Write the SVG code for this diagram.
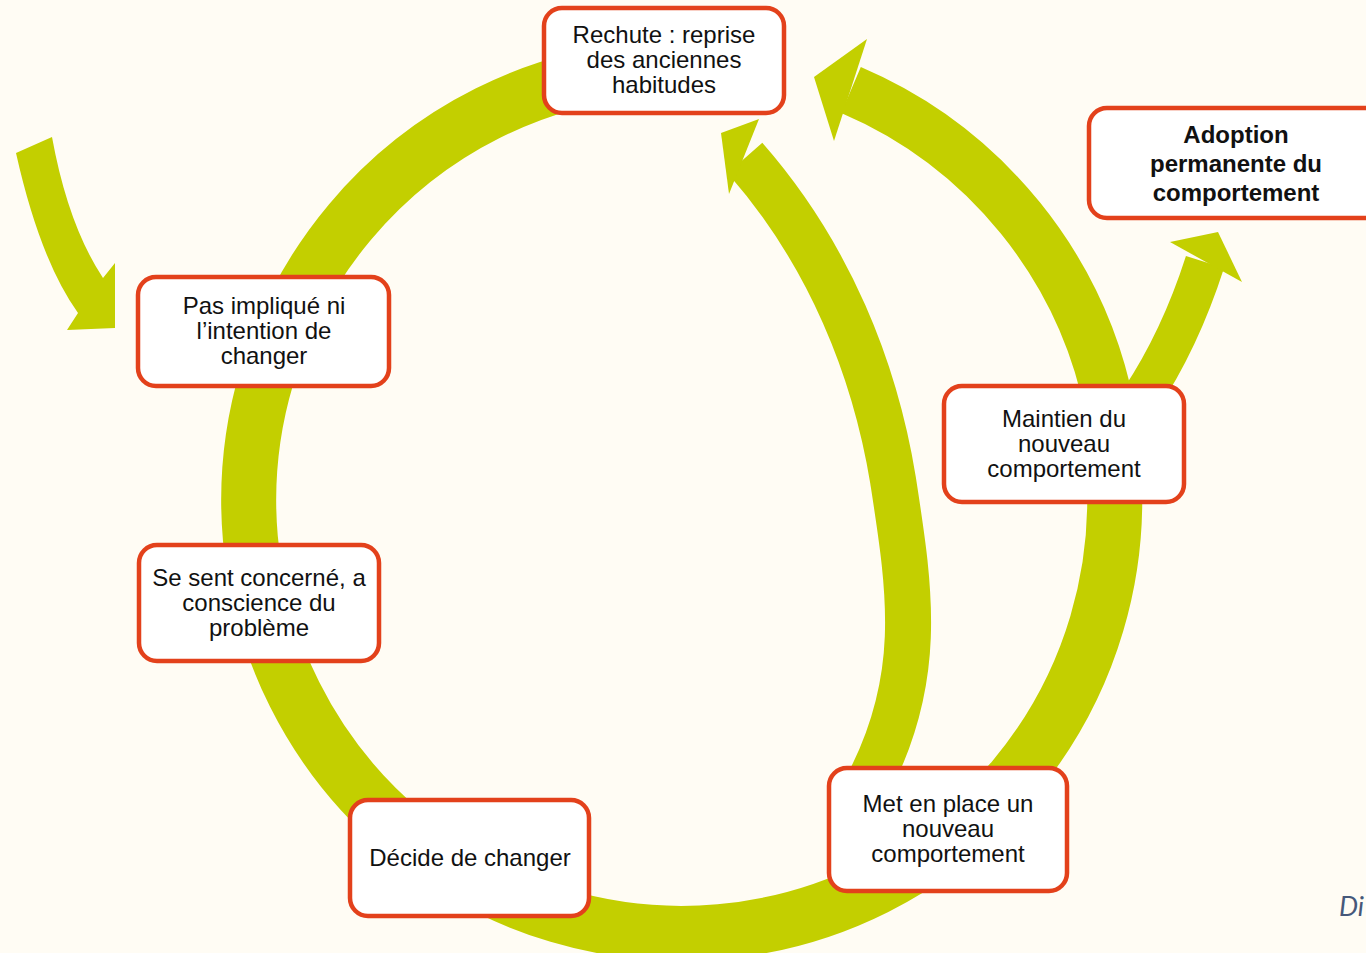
<svg xmlns="http://www.w3.org/2000/svg" width="1366" height="953" viewBox="0 0 1366 953">
<style>
.bg{fill:#fffcf4}
.ring{fill:none;stroke:#c3cf00}
.head{fill:#c3cf00}
.box{fill:#ffffff;stroke:#e3411b;stroke-width:4.5}
.t{font-family:"Liberation Sans",Arial,sans-serif;font-size:24px;fill:#111;text-anchor:middle}
.b{font-weight:bold;font-size:24px}
.sig{font-family:Lato,"Open Sans",sans-serif;font-style:italic;font-size:27px;fill:#46587a}
</style>
<rect class="bg" x="0" y="0" width="1366" height="953"/>
<g id="connectors">
  <path class="ring" stroke-width="55" d="M1113,462 A433,433 0 1 1 644,69"/>
  <path class="ring" stroke-width="50" d="M1110,410 A440,440 0 0 0 851,90"/>
  <polygon class="head" points="814,77 867,39 834,141"/>
  <path class="ring" stroke-width="46" d="M865,790 C925,680 910,590 893,480 C875,370 830,255 745,158"/>
  <polygon class="head" points="721,133 759,119 729,194"/>
  <path class="ring" stroke-width="40" d="M1140,400 Q1180,340 1205,262"/>
  <polygon class="head" points="1218,232 1170,242 1242,282"/>
  <path class="head" d="M16,153 Q40,260 78,313 L67,330 L115,328 L115,263 L103,278 Q68,225 52,137 Z"/>
</g>
<g id="rechute">
  <rect class="box" x="544" y="8" width="240" height="105" rx="18"/>
  <text class="t" x="664" y="43">Rechute : reprise</text>
  <text class="t" x="664" y="68">des anciennes</text>
  <text class="t" x="664" y="93">habitudes</text>
</g>
<g id="pas-implique">
  <rect class="box" x="138" y="277" width="251" height="109" rx="18"/>
  <text class="t" x="264" y="314">Pas impliqué ni</text>
  <text class="t" x="264" y="339">l’intention de</text>
  <text class="t" x="264" y="364">changer</text>
</g>
<g id="se-sent-concerne">
  <rect class="box" x="139" y="545" width="240" height="116" rx="18"/>
  <text class="t" x="259" y="586">Se sent concerné, a</text>
  <text class="t" x="259" y="611">conscience du</text>
  <text class="t" x="259" y="636">problème</text>
</g>
<g id="decide">
  <rect class="box" x="350" y="800" width="239" height="116" rx="18"/>
  <text class="t" x="470" y="866">Décide de changer</text>
</g>
<g id="met-en-place">
  <rect class="box" x="829" y="768" width="238" height="123" rx="18"/>
  <text class="t" x="948" y="812">Met en place un</text>
  <text class="t" x="948" y="837">nouveau</text>
  <text class="t" x="948" y="862">comportement</text>
</g>
<g id="maintien">
  <rect class="box" x="944" y="386" width="240" height="116" rx="18"/>
  <text class="t" x="1064" y="427">Maintien du</text>
  <text class="t" x="1064" y="452">nouveau</text>
  <text class="t" x="1064" y="477">comportement</text>
</g>
<g id="adoption">
  <rect class="box" x="1089" y="108" width="300" height="110" rx="18"/>
  <text class="t b" x="1236" y="143">Adoption</text>
  <text class="t b" x="1236" y="172">permanente du</text>
  <text class="t b" x="1236" y="201">comportement</text>
</g>
<text class="sig" x="1339" y="916">Di</text>
</svg>
